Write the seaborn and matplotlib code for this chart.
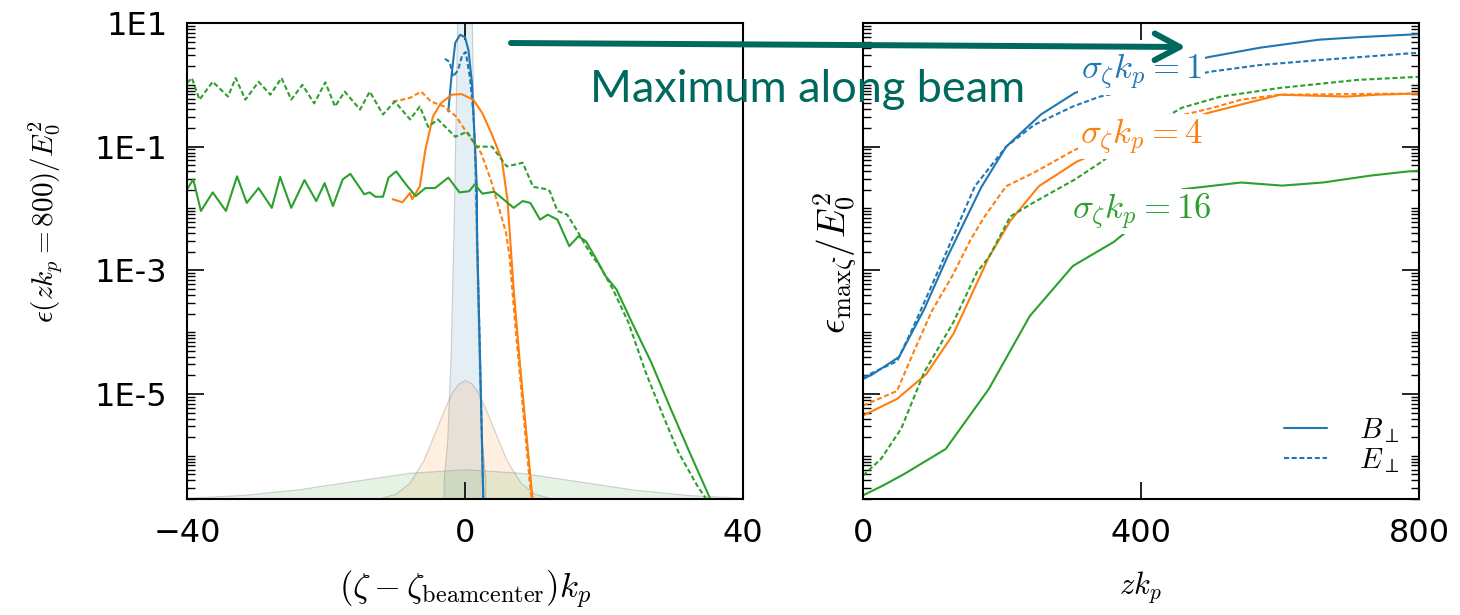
import numpy as np
import matplotlib
matplotlib.use("Agg")
import matplotlib.pyplot as plt
from matplotlib.lines import Line2D
from matplotlib.patches import FancyArrowPatch
from matplotlib.ticker import FixedLocator, LogLocator, NullFormatter
import seaborn as sns

# ---- left panel: field energy along the beam at zk_p = 800 (log10 values) ----
b1_solid_x = [-2.4, -1.9, -1.4, -0.7, 0.0, 0.5, 1.0, 1.4, 1.7, 1.75, 2.2, 2.65]
b1_solid_log = [-0.43, 0.19, 0.68, 0.81, 0.77, 0.56, 0.03, -0.89, -1.65, -2.5, -4.6, -6.8]
b1_dash_x = [-2.9, -2.2, -1.7, -1.0, -0.4, 0.1, 0.7, 1.2, 1.5, 1.75, 2.2, 2.65]
b1_dash_log = [0.42, 0.37, 0.13, 0.24, 0.48, 0.53, 0.13, -0.45, -1.2, -2.5, -4.6, -6.8]

b4_solid_x = [-10.4, -9.0, -7.9, -7.6, -6.5, -5.7, -4.6, -3.5, -1.9, -0.5, 1.2, 2.5,
              3.9, 5.3, 6.1, 6.7, 7.0, 7.8, 8.9, 9.8]
b4_solid_log = [-1.85, -1.90, -1.75, -1.85, -1.64, -1.05, -0.51, -0.30, -0.16, -0.15, -0.24, -0.46,
                -0.81, -1.21, -1.85, -2.82, -3.31, -4.38, -5.73, -6.8]
b4_dash_x = [-10.4, -9.0, -7.9, -6.3, -4.9, -3.0, -1.3, 0.3, 2.3, 3.7, 4.8, 5.9, 6.4,
             7.2, 8.3, 9.4, 9.7]
b4_dash_log = [-0.27, -0.24, -0.21, -0.11, -0.27, -0.35, -0.51, -0.78, -1.10, -1.53, -1.96, -2.39, -2.77,
               -3.84, -5.19, -6.53, -6.8]

b16_solid_x = [-40.0, -39.1, -38.0, -36.3, -34.4, -32.8, -31.4, -29.7, -27.8, -26.6, -25.0, -23.1,
               -21.4, -20.2, -19.0, -17.6, -16.5, -14.5, -13.7, -12.9, -11.8, -11.0, -9.9, -8.5,
               -7.1, -5.7, -4.3, -2.4, -0.8, 0.6, 1.4, 2.5, 4.2, 5.3, 7.0, 8.3, 9.4, 10.8, 11.9,
               13.3, 15.0, 16.3, 17.4, 18.8, 20.2, 21.8, 24.0, 26.8, 29.6, 32.3, 35.5]
b16_solid_log = [-1.69, -1.53, -2.04, -1.74, -2.04, -1.48, -1.91, -1.67, -1.99, -1.49, -1.99, -1.54,
                 -1.88, -1.59, -1.96, -1.53, -1.44, -1.77, -1.74, -1.81, -1.81, -1.50, -1.40, -1.61,
                 -1.80, -1.67, -1.67, -1.50, -1.74, -1.72, -1.61, -1.76, -1.73, -1.83, -1.99, -1.88,
                 -1.91, -2.18, -2.10, -2.18, -2.61, -2.45, -2.53, -2.80, -3.09, -3.31, -3.84, -4.49,
                 -5.24, -5.94, -6.75]
b16_dash_x = [-40.0, -39.3, -38.2, -36.3, -34.1, -33.0, -31.6, -29.7, -28.0, -26.4, -25.0, -23.4,
              -21.7, -20.1, -18.7, -17.3, -15.1, -13.7, -11.8, -10.1, -7.9, -6.5, -5.3, -3.9,
              -1.4, 0.3, 1.7, 3.9, 6.0, 7.2, 8.3, 9.8, 11.8, 12.2, 13.3, 14.7, 16.3, 17.4, 18.5,
              19.4, 21.3, 23.5, 26.0, 28.5, 30.7, 33.4, 35.0]
b16_dash_log = [0.03, 0.11, -0.24, 0.05, -0.19, 0.11, -0.24, 0.05, -0.16, 0.11, -0.24, 0.00,
                -0.30, 0.04, -0.35, -0.11, -0.40, -0.11, -0.48, -0.27, -0.56, -0.35, -0.68, -0.56,
                -0.84, -0.76, -1.00, -1.00, -1.32, -1.29, -1.26, -1.65, -1.69, -1.72, -2.04, -2.10,
                -2.39, -2.61, -2.80, -2.93, -3.31, -3.84, -4.65, -5.35, -5.94, -6.48, -6.75]

# beam current profiles (linear, shaded background)
prof1_x = [-3, -2.5, -2, -1.5, -1, -0.5, 0, 0.5, 1, 1.5, 2, 2.5, 3]
prof1_h = [0.04, 0.12, 0.30, 0.62, 1.05, 1.45, 1.6, 1.45, 1.05, 0.62, 0.30, 0.12, 0.04]
prof4_x = [-12, -10, -8, -6, -4, -3, -2, -1, 0, 1, 2, 3, 4, 6, 8, 10, 12]
prof4_h = [0.003, 0.011, 0.034, 0.081, 0.152, 0.188, 0.221, 0.242, 0.25,
           0.242, 0.221, 0.188, 0.152, 0.081, 0.034, 0.011, 0.003]
prof16_x = [-48, -40, -32, -24, -16, -8, 0, 8, 16, 24, 32, 40, 48]
prof16_h = [0.0007, 0.0027, 0.0085, 0.0203, 0.0379, 0.0551, 0.0625,
            0.0551, 0.0379, 0.0203, 0.0085, 0.0027, 0.0007]

# ---- right panel: maximum along the beam vs propagation distance (log10 values) ----
r1_solid_x = [0, 14, 52, 88, 122, 170, 206, 256, 305, 400, 498, 571, 656, 712, 800]
r1_solid_log = [-4.76, -4.68, -4.40, -3.63, -2.77, -1.66, -1.0, -0.48, -0.13, 0.2, 0.45, 0.6, 0.73, 0.77, 0.82]
r1_dash_x = [0, 49, 71, 111, 161, 206, 246, 302, 341, 420, 498, 571, 656, 800]
r1_dash_log = [-4.73, -4.47, -3.95, -2.94, -1.64, -1.0, -0.65, -0.35, -0.19, 0.0, 0.21, 0.32, 0.40, 0.52]

r4_solid_x = [0, 49, 91, 130, 181, 212, 253, 308, 400, 498, 600, 695, 740, 800]
r4_solid_log = [-5.35, -5.08, -4.68, -4.03, -2.79, -2.2, -1.64, -1.24, -0.8, -0.45, -0.16, -0.19, -0.16, -0.14]
r4_dash_x = [0, 49, 73, 99, 128, 155, 175, 206, 246, 305, 400, 504, 544, 600, 800]
r4_dash_log = [-5.19, -4.95, -4.32, -3.66, -3.10, -2.5, -2.13, -1.64, -1.42, -1.05, -0.65, -0.37, -0.24, -0.16, -0.14]

r16_solid_x = [0, 29, 60, 119, 181, 240, 302, 361, 420, 459, 544, 603, 662, 729, 785, 800]
r16_solid_log = [-6.64, -6.48, -6.29, -5.89, -4.92, -3.74, -2.93, -2.54, -2.0, -1.69, -1.58, -1.63,
                 -1.58, -1.47, -1.40, -1.39]
r16_dash_x = [0, 26, 55, 88, 130, 164, 181, 212, 246, 305, 344, 400, 459, 515, 600, 712, 800]
r16_dash_log = [-6.32, -6.05, -5.56, -4.65, -3.84, -3.03, -2.79, -2.13, -1.9, -1.53, -1.24, -0.75,
                -0.37, -0.19, -0.05, 0.08, 0.13]

sigma_labels = [r"$\sigma_\zeta k_p=1$", r"$\sigma_\zeta k_p=4$", r"$\sigma_\zeta k_p=16$"]
label_pos = [(401, 1.6), (401, 0.145), (401, 0.0089)]
ytick_vals = [1e1, 1e-1, 1e-3, 1e-5]
ytick_text = ["1E1", "1E-1", "1E-3", "1E-5"]

sns.set_style("ticks")
plt.rcParams["font.family"] = ["DejaVu Sans"]
plt.rcParams["mathtext.fontset"] = "cm"
plt.rcParams["text.color"] = "black"

colors = sns.color_palette("tab10")[:3]
teal = "#00695e"
dash = (0, (2.4, 1.3))
W, H = 1460, 615

fig = plt.figure(figsize=(14.6, 6.15), dpi=100)
ax1 = fig.add_axes([187 / W, 1 - 499 / H, 556 / W, 476 / H])
ax2 = fig.add_axes([863 / W, 1 - 499 / H, 556 / W, 476 / H])

# shaded beam profiles on a linear twin axis behind the curves
axf = ax1.twinx()
axf.set_zorder(ax1.get_zorder() - 1)
ax1.patch.set_visible(False)
for c, px, ph in zip(colors, [prof1_x, prof4_x, prof16_x], [prof1_h, prof4_h, prof16_h]):
    axf.fill_between(px, 0, ph, facecolor=(*c, 0.12), edgecolor=(0.5, 0.5, 0.5, 0.35), lw=0.8)
axf.set_ylim(0, 1)
axf.axis("off")

for ax in (ax1, ax2):
    ax.set_yscale("log")

left_sets = [(b1_solid_x, b1_solid_log, b1_dash_x, b1_dash_log),
             (b4_solid_x, b4_solid_log, b4_dash_x, b4_dash_log),
             (b16_solid_x, b16_solid_log, b16_dash_x, b16_dash_log)]
right_sets = [(r1_solid_x, r1_solid_log, r1_dash_x, r1_dash_log),
              (r4_solid_x, r4_solid_log, r4_dash_x, r4_dash_log),
              (r16_solid_x, r16_solid_log, r16_dash_x, r16_dash_log)]

for ax, sets in ((ax1, left_sets), (ax2, right_sets)):
    for c, (sx, sl, dx, dl) in zip(colors, sets):
        sns.lineplot(x=sx, y=10 ** np.array(sl), ax=ax, color=c, lw=1.5,
                     sort=False, estimator=None)
        sns.lineplot(x=dx, y=10 ** np.array(dl), ax=ax, color=c, lw=1.5,
                     linestyle=dash, sort=False, estimator=None)

ax1.set_xlim(-40, 40)
ax2.set_xlim(0, 800)
ax1.set_xticks([-40, 0, 40])
ax2.set_xticks([0, 400, 800])
for ax in (ax1, ax2):
    ax.set_ylim(2e-7, 10)
    ax.yaxis.set_major_locator(FixedLocator(ytick_vals))
    ax.yaxis.set_minor_locator(LogLocator(base=10, subs=np.arange(1, 10), numticks=100))
    ax.yaxis.set_minor_formatter(NullFormatter())
    ax.tick_params(which="major", direction="in", length=12, width=1.2, labelsize=23, pad=14,
                   color="black", labelcolor="black")
    ax.tick_params(which="minor", direction="in", length=6, width=1.0, color="black")
    for s in ax.spines.values():
        s.set_linewidth(1.5)
        s.set_color("black")
    ax.set_xlabel("")
    ax.set_ylabel("")

ax1.set_yticklabels(ytick_text)
ax1.tick_params(which="both", left=True, right=False, top=True, bottom=True)
ax2.tick_params(which="both", left=True, right=True, top=True, bottom=True, labelleft=False)

# labels of the beam lengths, covering the curves behind them
for c, txt, (lx, ly) in zip(colors, sigma_labels, label_pos):
    ax2.text(lx, ly, txt, color=c, fontsize=25, ha="center", va="center", zorder=6,
             bbox=dict(facecolor="white", edgecolor="none", pad=2))

handles = [Line2D([], [], color=colors[0], lw=1.5),
           Line2D([], [], color=colors[0], lw=1.5, linestyle=dash)]
ax2.legend(handles, [r"$B_\perp$", r"$E_\perp$"], loc="lower right",
           bbox_to_anchor=(1.012, -0.005), frameon=False, fontsize=21,
           handlelength=1.45, handletextpad=1.1, labelspacing=0.05)

fig.text(45 / W, 1 - 222 / H, r"$\epsilon(zk_p=800)/E_0^2$", rotation=90,
         ha="center", va="center", fontsize=21)
fig.text(835 / W, 1 - 263 / H, r"$\epsilon_{\max\zeta}/E_0^2$", rotation=90,
         ha="center", va="center", fontsize=27)
fig.text(465 / W, 1 - 590 / H, r"$(\zeta-\zeta_{\rm beamcenter})k_p$",
         ha="center", va="center", fontsize=25)
fig.text(1140 / W, 1 - 587 / H, r"$zk_p$", ha="center", va="center", fontsize=22)

fig.text(590 / W, 1 - 102 / H, "Maximum along beam", color=teal, fontsize=32.5,
         family=["Lato", "DejaVu Sans"], ha="left", va="baseline")
arrow = FancyArrowPatch((511 / W, 1 - 43 / H), (1186 / W, 1 - 47 / H),
                        transform=fig.transFigure, arrowstyle="->,head_length=0.45,head_width=0.24",
                        mutation_scale=40, lw=4.3, color=teal, shrinkA=0, shrinkB=0)
fig.add_artist(arrow)

fig.savefig("out.png", dpi=100)
